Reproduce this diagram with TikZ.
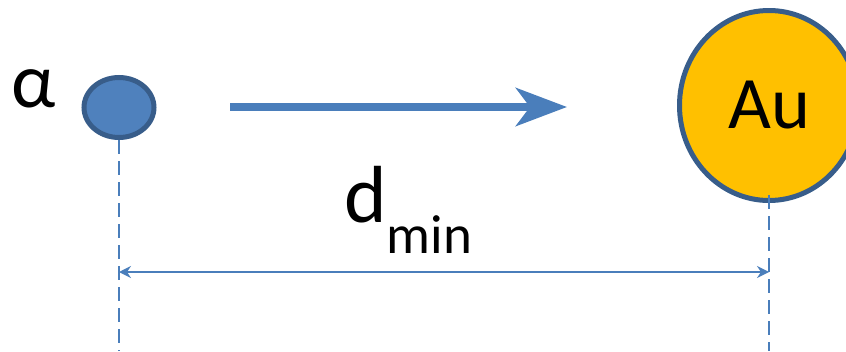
\documentclass[tikz,border=0pt]{standalone}
\usepackage{fontspec}
\setmainfont{Carlito}
\usetikzlibrary{arrows.meta,shapes.geometric}

\definecolor{alphablue}{HTML}{4F81BD}
\definecolor{edgeblue}{HTML}{385D8A}
\definecolor{goldfill}{HTML}{FFC000}
\definecolor{lineblue}{HTML}{4A7EBB}

\begin{document}
\begin{tikzpicture}[
    x=1pt, y=-1pt,
    every node/.style={inner sep=0pt},
    particle/.style={
        ellipse,
        draw=edgeblue,
        line width=5pt
    },
    guide/.style={
        draw=lineblue,
        line width=1.6pt,
        dash pattern=on 14pt off 7pt
    }
]
    \clip (0,0) rectangle (846,351);
    \useasboundingbox (0,0) rectangle (846,351);

    % alpha particle
    \node[
        particle,
        fill=alphablue,
        minimum width=70pt,
        minimum height=60pt
    ] (alpha) at (119,107.5) {};

    \node[anchor=base, font=\fontsize{78}{78}\selectfont] (alphalabel)
        at (34,107) {α};

    % gold nucleus
    \node[
        particle,
        fill=goldfill,
        minimum width=179pt,
        minimum height=190pt,
        font=\fontsize{74}{74}\selectfont
    ] (gold) at (769,105.5) {Au};

    % direction of motion
    \coordinate (movestart) at (230,107);
    \coordinate (moveend) at (567,107);
    \draw[
        lineblue,
        line width=8pt,
        -{Stealth[length=51pt, width=38pt, inset=14pt]}
    ] (movestart) -- (moveend);

    % guide lines
    \coordinate (alphafoot) at (119,351);
    \coordinate (goldfoot) at (769,351);
    \draw[guide] (alpha.south) -- (alphafoot);
    \draw[guide] ([yshift=8pt]gold.south) -- (goldfoot);

    % distance
    \coordinate (distleft) at (119,272);
    \coordinate (distright) at (769,272);
    \draw[
        lineblue,
        line width=1.5pt,
        {Stealth[length=12pt, width=12pt, inset=4pt]}-{Stealth[length=12pt, width=12pt, inset=4pt]}
    ] (distleft) -- (distright);

    \node[anchor=base west, font=\fontsize{81}{81}\selectfont] (dmin)
        at (344,222) {d\raisebox{-31pt}{\fontsize{55}{55}\selectfont min}};

\end{tikzpicture}
\end{document}
